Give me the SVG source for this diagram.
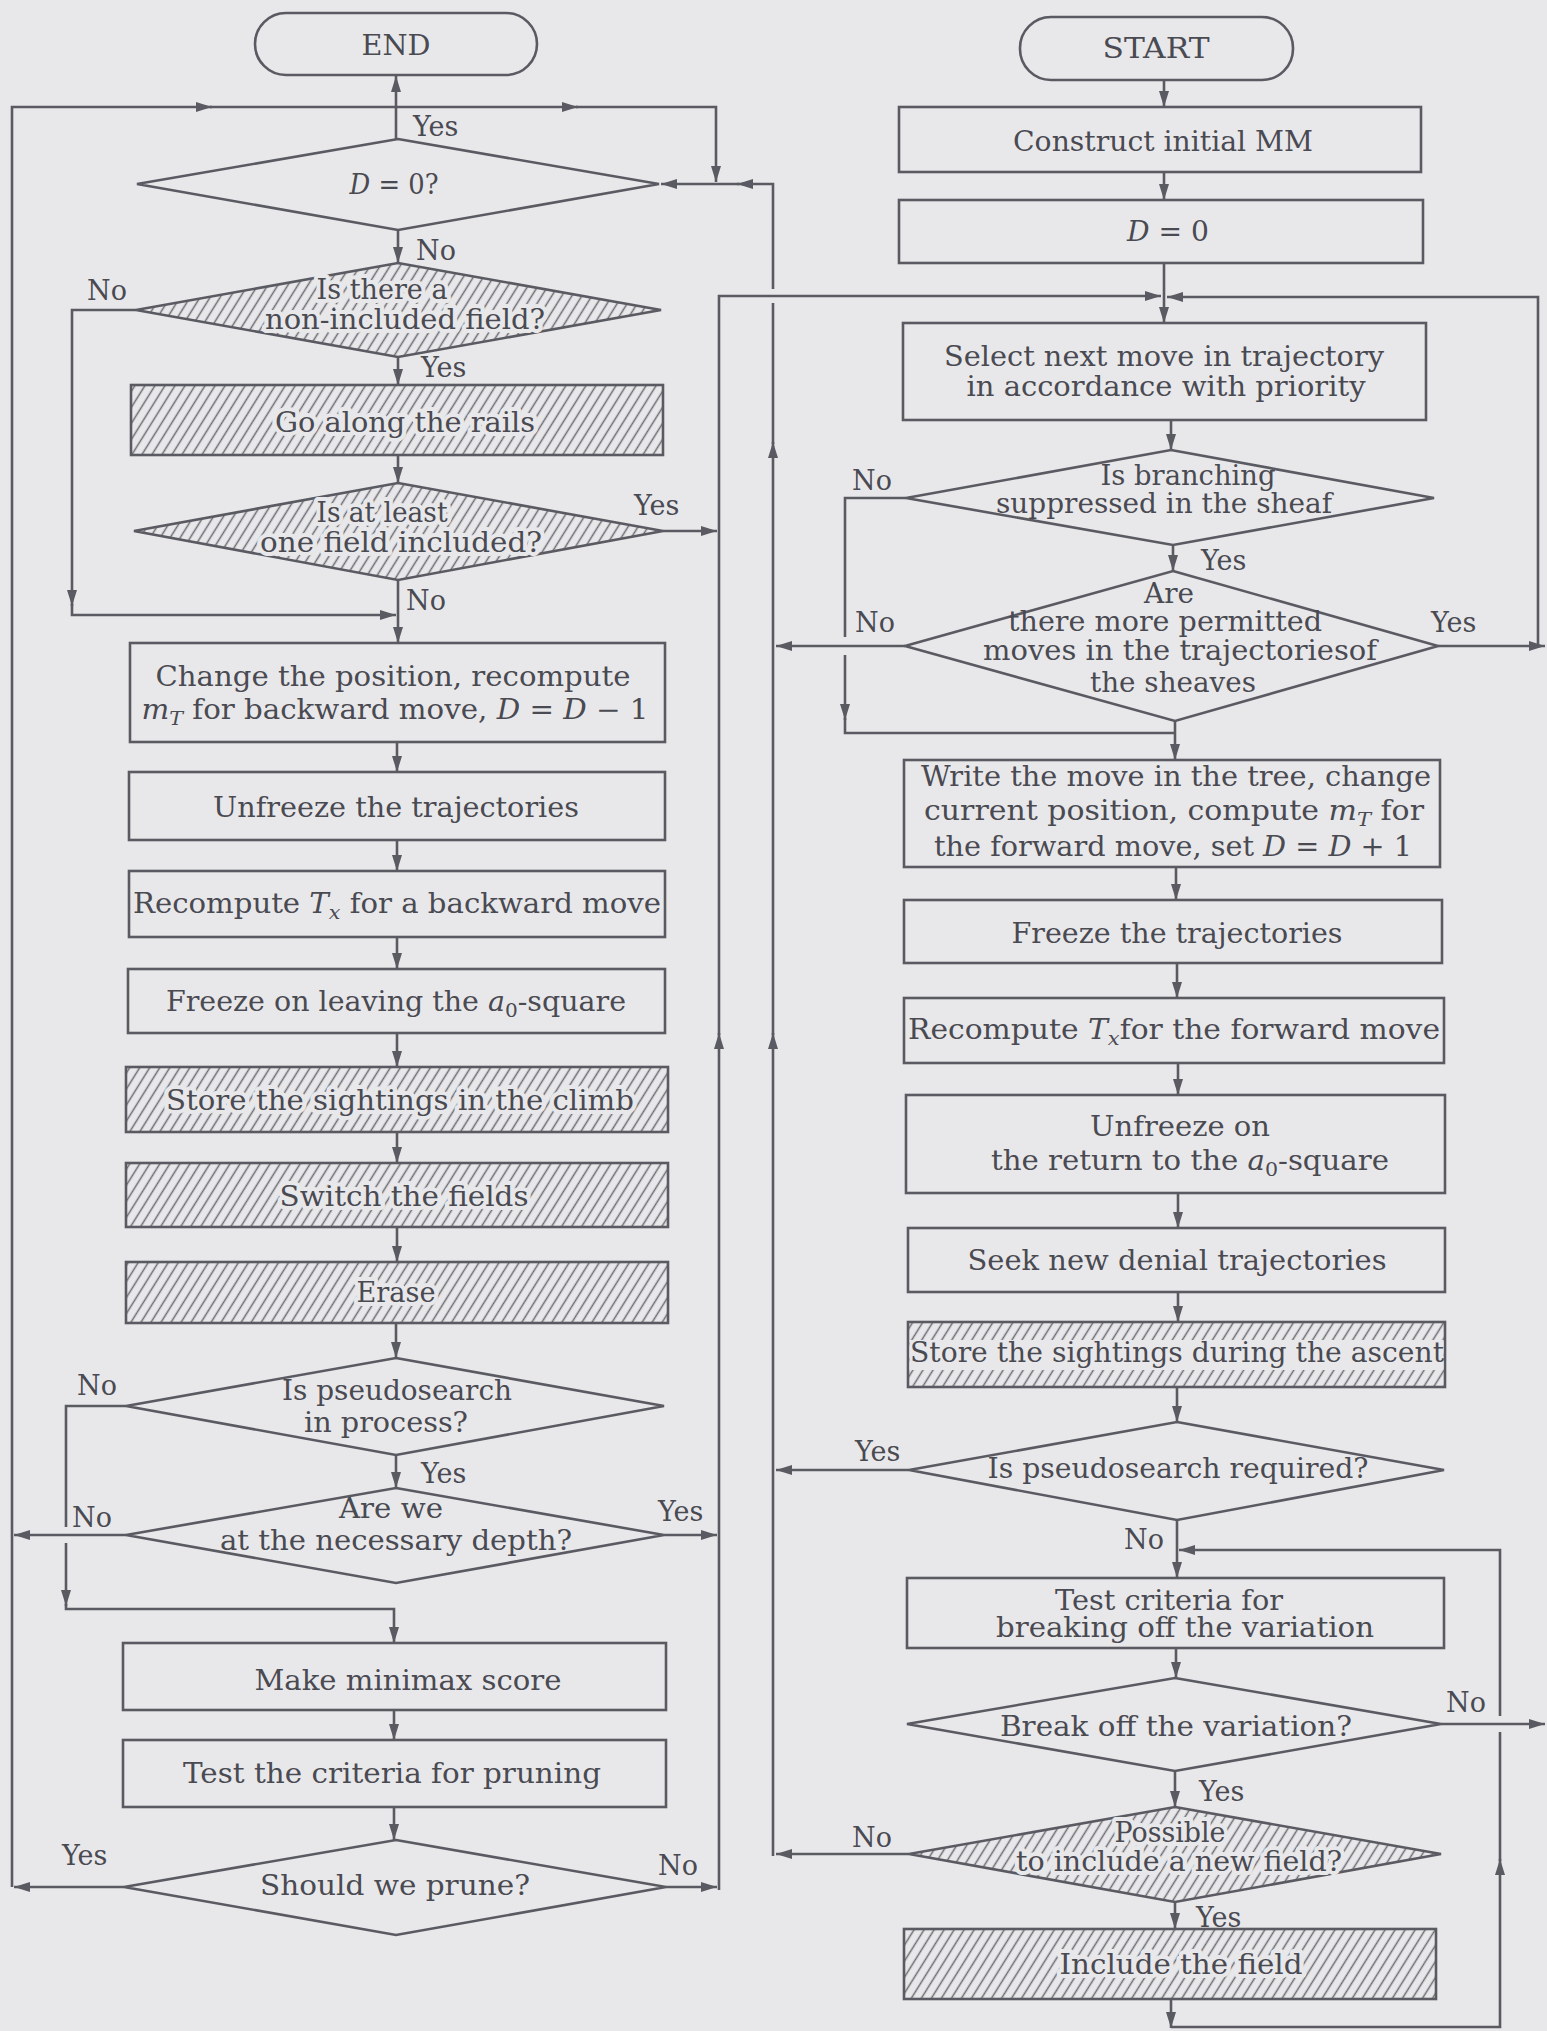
<svg xmlns="http://www.w3.org/2000/svg" width="1547" height="2031" viewBox="0 0 1547 2031">
<defs>
<style>
.box{fill:none;stroke:#5a5a62;stroke-width:2.6}
.hb{fill:url(#hatch);stroke:#5a5a62;stroke-width:2.6}
.c{fill:none;stroke:#5a5a62;stroke-width:2.6}
.ca{fill:none;stroke:#5a5a62;stroke-width:2.6;marker-end:url(#ah)}
text{font-family:"DejaVu Serif","Liberation Serif",serif;font-size:27px;fill:#4a4a52}
.m{text-anchor:middle}
.h{stroke:#e8e8ea;stroke-width:8;stroke-linejoin:round;paint-order:stroke}
.i{font-style:italic}
</style>
<marker id="ah" viewBox="0 0 16 10" refX="16" refY="5" markerWidth="16" markerHeight="10" markerUnits="userSpaceOnUse" orient="auto"><path d="M0,0 L16,5 L0,10 z" fill="#5a5a62"/></marker>
<pattern id="hatch" patternUnits="userSpaceOnUse" width="8.5" height="8.5" patternTransform="rotate(32)"><rect width="8.5" height="8.5" fill="#e8e8ea"/><line x1="4.25" y1="0" x2="4.25" y2="8.5" stroke="#6c6c74" stroke-width="1.5"/></pattern>
</defs>
<rect width="1547" height="2031" fill="#e8e8ea"/>

<g id="connectors">
<path class="ca" d="M396,139 V76"/>
<path class="ca" d="M398,230 V263"/>
<path class="ca" d="M398,357 V385"/>
<path class="ca" d="M398,455 V483"/>
<path class="ca" d="M398,580 V643"/>
<path class="ca" d="M136,310 H72 V606"/>
<path class="ca" d="M72,604 V615 H396"/>
<path class="ca" d="M397,742 V772"/>
<path class="ca" d="M397,840 V871"/>
<path class="ca" d="M397,937 V969"/>
<path class="ca" d="M397,1033 V1067"/>
<path class="ca" d="M397,1132 V1163"/>
<path class="ca" d="M397,1227 V1262"/>
<path class="ca" d="M396,1323 V1358"/>
<path class="ca" d="M396,1455 V1488"/>
<path class="c" d="M126,1406 H66 V1527"/>
<path class="ca" d="M66,1543 V1606"/>
<path class="ca" d="M66,1604 V1609 H394 V1643"/>
<path class="ca" d="M126,1535 H14"/>
<path class="ca" d="M394,1710 V1740"/>
<path class="ca" d="M394,1807 V1840"/>
<path class="ca" d="M124,1887 H14"/>
<path class="ca" d="M12,1887 V107 H212"/>
<path class="ca" d="M210,107 H578"/>
<path class="ca" d="M576,107 H716 V182"/>
<path class="ca" d="M663,531 H717"/>
<path class="ca" d="M664,1535 H717"/>
<path class="ca" d="M666,1887 H717"/>
<path class="ca" d="M719,1890 V1033"/>
<path class="ca" d="M719,1035 V296 H1161"/>
<path class="ca" d="M773,1856 V1033"/>
<path class="ca" d="M773,1035 V442"/>
<path class="c" d="M773,444 V303"/>
<path class="ca" d="M773,289 V184 H737"/>
<path class="ca" d="M739,184 H661"/>
<path class="ca" d="M1164,80 V107"/>
<path class="ca" d="M1164,172 V200"/>
<path class="ca" d="M1164,263 V323"/>
<path class="ca" d="M1438,646 H1545"/>
<path class="ca" d="M1538,646 V297 H1167"/>
<path class="ca" d="M1171,420 V450"/>
<path class="ca" d="M1173,545 V571"/>
<path class="c" d="M906,498 H845 V637"/>
<path class="ca" d="M845,655 V720"/>
<path class="c" d="M845,718 V733 H1175"/>
<path class="ca" d="M1175,721 V760"/>
<path class="ca" d="M905,646 H776"/>
<path class="ca" d="M1176,867 V900"/>
<path class="ca" d="M1177,963 V998"/>
<path class="ca" d="M1178,1063 V1095"/>
<path class="ca" d="M1178,1193 V1228"/>
<path class="ca" d="M1178,1292 V1322"/>
<path class="ca" d="M1177,1387 V1422"/>
<path class="ca" d="M909,1470 H776"/>
<path class="ca" d="M1177,1520 V1578"/>
<path class="ca" d="M1176,1648 V1678"/>
<path class="ca" d="M1441,1724 H1545"/>
<path class="ca" d="M1175,1771 V1807"/>
<path class="ca" d="M909,1854 H776"/>
<path class="ca" d="M1175,1902 V1929"/>
<path class="ca" d="M1171,1999 V2028"/>
<path class="ca" d="M1171,2027 H1500 V1859"/>
<path class="c" d="M1500,1861 V1732"/>
<path class="ca" d="M1500,1716 V1550 H1179"/>
</g>

<g id="labels">
<text x="413" y="136">Yes</text>
<text x="416" y="260">No</text>
<text x="87" y="300">No</text>
<text x="421" y="377">Yes</text>
<text x="634" y="515">Yes</text>
<text x="406" y="610">No</text>
<text x="77" y="1395">No</text>
<text x="421" y="1483">Yes</text>
<text x="72" y="1527">No</text>
<text x="658" y="1521">Yes</text>
<text x="62" y="1865">Yes</text>
<text x="658" y="1875">No</text>
<text x="852" y="490">No</text>
<text x="1201" y="570">Yes</text>
<text x="855" y="632">No</text>
<text x="1431" y="632">Yes</text>
<text x="855" y="1461">Yes</text>
<text x="1124" y="1549">No</text>
<text x="1446" y="1712">No</text>
<text x="1199" y="1801">Yes</text>
<text x="852" y="1847">No</text>
<text x="1196" y="1927">Yes</text>
</g>

<g id="n_end"><rect class="box" x="255" y="13" width="282" height="62" rx="31"/><text class="m" x="396" y="55" textLength="69" lengthAdjust="spacingAndGlyphs">END</text></g>
<g id="n_d0"><polygon class="box" points="398,139 659,184 398,230 137,184"/><text class="m" x="394" y="194" textLength="89" lengthAdjust="spacingAndGlyphs"><tspan class="i">D</tspan> = 0?</text></g>
<g id="n_nonincl"><polygon class="hb" points="398,263 661,310 398,357 136,310"/><text class="m h" x="382" y="299" textLength="131" lengthAdjust="spacingAndGlyphs">Is there a</text><text class="m h" x="405" y="329" textLength="280" lengthAdjust="spacingAndGlyphs">non-included field?</text></g>
<g id="n_rails"><rect class="hb" x="131" y="385" width="532" height="70"/><text class="m h" x="405" y="432" textLength="260" lengthAdjust="spacingAndGlyphs">Go along the rails</text></g>
<g id="n_atleast"><polygon class="hb" points="398,483 663,531 398,580 134,531"/><text class="m h" x="382" y="522" textLength="131" lengthAdjust="spacingAndGlyphs">Is at least</text><text class="m h" x="401" y="552" textLength="282" lengthAdjust="spacingAndGlyphs">one field included?</text></g>
<g id="n_change"><rect class="box" x="130" y="643" width="535" height="99"/><text class="m" x="393" y="686" textLength="475" lengthAdjust="spacingAndGlyphs">Change the position, recompute</text><text class="m" x="395" y="719" textLength="507" lengthAdjust="spacingAndGlyphs"><tspan class="i">m</tspan><tspan class="i" font-size="19" dy="6">T</tspan><tspan dy="-6"> for backward move, </tspan><tspan class="i">D</tspan> = <tspan class="i">D</tspan> − 1</text></g>
<g id="n_unfreeze"><rect class="box" x="129" y="772" width="536" height="68"/><text class="m" x="396" y="817" textLength="366" lengthAdjust="spacingAndGlyphs">Unfreeze the trajectories</text></g>
<g id="n_recback"><rect class="box" x="129" y="871" width="536" height="66"/><text class="m" x="397" y="913" textLength="528" lengthAdjust="spacingAndGlyphs">Recompute <tspan class="i">T</tspan><tspan class="i" font-size="19" dy="6">x</tspan><tspan dy="-6"> for a backward move</tspan></text></g>
<g id="n_freeze"><rect class="box" x="128" y="969" width="537" height="64"/><text class="m" x="396" y="1011" textLength="460" lengthAdjust="spacingAndGlyphs">Freeze on leaving the <tspan class="i">a</tspan><tspan font-size="19" dy="6">0</tspan><tspan dy="-6">-square</tspan></text></g>
<g id="n_storeclimb"><rect class="hb" x="126" y="1067" width="542" height="65"/><text class="m h" x="400" y="1110" textLength="468" lengthAdjust="spacingAndGlyphs">Store the sightings in the climb</text></g>
<g id="n_switch"><rect class="hb" x="126" y="1163" width="542" height="64"/><text class="m h" x="404" y="1206" textLength="249" lengthAdjust="spacingAndGlyphs">Switch the fields</text></g>
<g id="n_erase"><rect class="hb" x="126" y="1262" width="542" height="61"/><text class="m h" x="396" y="1302" textLength="79" lengthAdjust="spacingAndGlyphs">Erase</text></g>
<g id="n_pseudoproc"><polygon class="box" points="396,1358 664,1406 396,1455 126,1406"/><text class="m" x="397" y="1400" textLength="230" lengthAdjust="spacingAndGlyphs">Is pseudosearch</text><text class="m" x="386" y="1432" textLength="164" lengthAdjust="spacingAndGlyphs">in process?</text></g>
<g id="n_depth"><polygon class="box" points="396,1488 664,1535 396,1583 126,1535"/><text class="m" x="391" y="1518" textLength="104" lengthAdjust="spacingAndGlyphs">Are we</text><text class="m" x="396" y="1550" textLength="352" lengthAdjust="spacingAndGlyphs">at the necessary depth?</text></g>
<g id="n_minimax"><rect class="box" x="123" y="1643" width="543" height="67"/><text class="m" x="408" y="1690" textLength="307" lengthAdjust="spacingAndGlyphs">Make minimax score</text></g>
<g id="n_testprune"><rect class="box" x="123" y="1740" width="543" height="67"/><text class="m" x="392" y="1783" textLength="418" lengthAdjust="spacingAndGlyphs">Test the criteria for pruning</text></g>
<g id="n_prune"><polygon class="box" points="396,1840 666,1887 396,1935 124,1887"/><text class="m" x="395" y="1895" textLength="270" lengthAdjust="spacingAndGlyphs">Should we prune?</text></g>

<g id="n_start"><rect class="box" x="1020" y="17" width="273" height="63" rx="31"/><text class="m" x="1156" y="58" textLength="107" lengthAdjust="spacingAndGlyphs">START</text></g>
<g id="n_construct"><rect class="box" x="899" y="107" width="522" height="65"/><text class="m" x="1163" y="151" textLength="300" lengthAdjust="spacingAndGlyphs">Construct initial MM</text></g>
<g id="n_d0init"><rect class="box" x="899" y="200" width="524" height="63"/><text class="m" x="1168" y="241" textLength="82" lengthAdjust="spacingAndGlyphs"><tspan class="i">D</tspan> = 0</text></g>
<g id="n_select"><rect class="box" x="903" y="323" width="523" height="97"/><text class="m" x="1164" y="366" textLength="440" lengthAdjust="spacingAndGlyphs">Select next move in trajectory</text><text class="m" x="1166" y="396" textLength="399" lengthAdjust="spacingAndGlyphs">in accordance with priority</text></g>
<g id="n_branch"><polygon class="box" points="1171,450 1434,498 1173,545 906,498"/><text class="m" x="1188" y="485" textLength="175" lengthAdjust="spacingAndGlyphs">Is branching</text><text class="m" x="1164" y="513" textLength="336" lengthAdjust="spacingAndGlyphs">suppressed in the sheaf</text></g>
<g id="n_more"><polygon class="box" points="1173,571 1438,646 1175,721 905,646"/><text class="m" x="1169" y="603" textLength="50" lengthAdjust="spacingAndGlyphs">Are</text><text class="m" x="1165" y="631" textLength="314" lengthAdjust="spacingAndGlyphs">there more permitted</text><text class="m" x="1180" y="660" textLength="394" lengthAdjust="spacingAndGlyphs">moves in the trajectoriesof</text><text class="m" x="1173" y="692" textLength="166" lengthAdjust="spacingAndGlyphs">the sheaves</text></g>
<g id="n_write"><rect class="box" x="904" y="760" width="536" height="107"/><text class="m" x="1176" y="786" textLength="510" lengthAdjust="spacingAndGlyphs">Write the move in the tree, change</text><text class="m" x="1174" y="820" textLength="500" lengthAdjust="spacingAndGlyphs">current position, compute <tspan class="i">m</tspan><tspan class="i" font-size="19" dy="6">T</tspan><tspan dy="-6"> for</tspan></text><text class="m" x="1173" y="856" textLength="478" lengthAdjust="spacingAndGlyphs">the forward move, set <tspan class="i">D</tspan> = <tspan class="i">D</tspan> + 1</text></g>
<g id="n_freezef"><rect class="box" x="904" y="900" width="538" height="63"/><text class="m" x="1177" y="943" textLength="331" lengthAdjust="spacingAndGlyphs">Freeze the trajectories</text></g>
<g id="n_recfwd"><rect class="box" x="904" y="998" width="540" height="65"/><text class="m" x="1174" y="1039" textLength="532" lengthAdjust="spacingAndGlyphs">Recompute <tspan class="i">T</tspan><tspan class="i" font-size="19" dy="6">x</tspan><tspan dy="-6">for the forward move</tspan></text></g>
<g id="n_unfreezef"><rect class="box" x="906" y="1095" width="539" height="98"/><text class="m" x="1180" y="1136" textLength="180" lengthAdjust="spacingAndGlyphs">Unfreeze on</text><text class="m" x="1190" y="1170" textLength="398" lengthAdjust="spacingAndGlyphs">the return to the <tspan class="i">a</tspan><tspan font-size="19" dy="6">0</tspan><tspan dy="-6">-square</tspan></text></g>
<g id="n_seek"><rect class="box" x="908" y="1228" width="537" height="64"/><text class="m" x="1177" y="1270" textLength="419" lengthAdjust="spacingAndGlyphs">Seek new denial trajectories</text></g>
<g id="n_storeasc"><rect class="hb" x="908" y="1322" width="537" height="65"/><rect x="909.5" y="1340" width="534" height="30" fill="#e8e8ea"/><text class="m" x="1177" y="1362" textLength="534" lengthAdjust="spacingAndGlyphs">Store the sightings during the ascent</text></g>
<g id="n_pseudoreq"><polygon class="box" points="1177,1422 1444,1470 1177,1520 909,1470"/><text class="m" x="1178" y="1478" textLength="381" lengthAdjust="spacingAndGlyphs">Is pseudosearch required?</text></g>
<g id="n_testbreak"><rect class="box" x="907" y="1578" width="537" height="70"/><text class="m" x="1169" y="1610" textLength="228" lengthAdjust="spacingAndGlyphs">Test criteria for</text><text class="m" x="1185" y="1637" textLength="378" lengthAdjust="spacingAndGlyphs">breaking off the variation</text></g>
<g id="n_break"><polygon class="box" points="1175,1678 1441,1724 1175,1771 907,1724"/><text class="m" x="1176" y="1736" textLength="352" lengthAdjust="spacingAndGlyphs">Break off the variation?</text></g>
<g id="n_possible"><polygon class="hb" points="1175,1807 1441,1854 1175,1902 909,1854"/><text class="m h" x="1170" y="1842" textLength="111" lengthAdjust="spacingAndGlyphs">Possible</text><text class="m h" x="1179" y="1871" textLength="326" lengthAdjust="spacingAndGlyphs">to include a new field?</text></g>
<g id="n_include"><rect class="hb" x="904" y="1929" width="532" height="70"/><text class="m h" x="1181" y="1974" textLength="243" lengthAdjust="spacingAndGlyphs">Include the field</text></g>
</svg>
